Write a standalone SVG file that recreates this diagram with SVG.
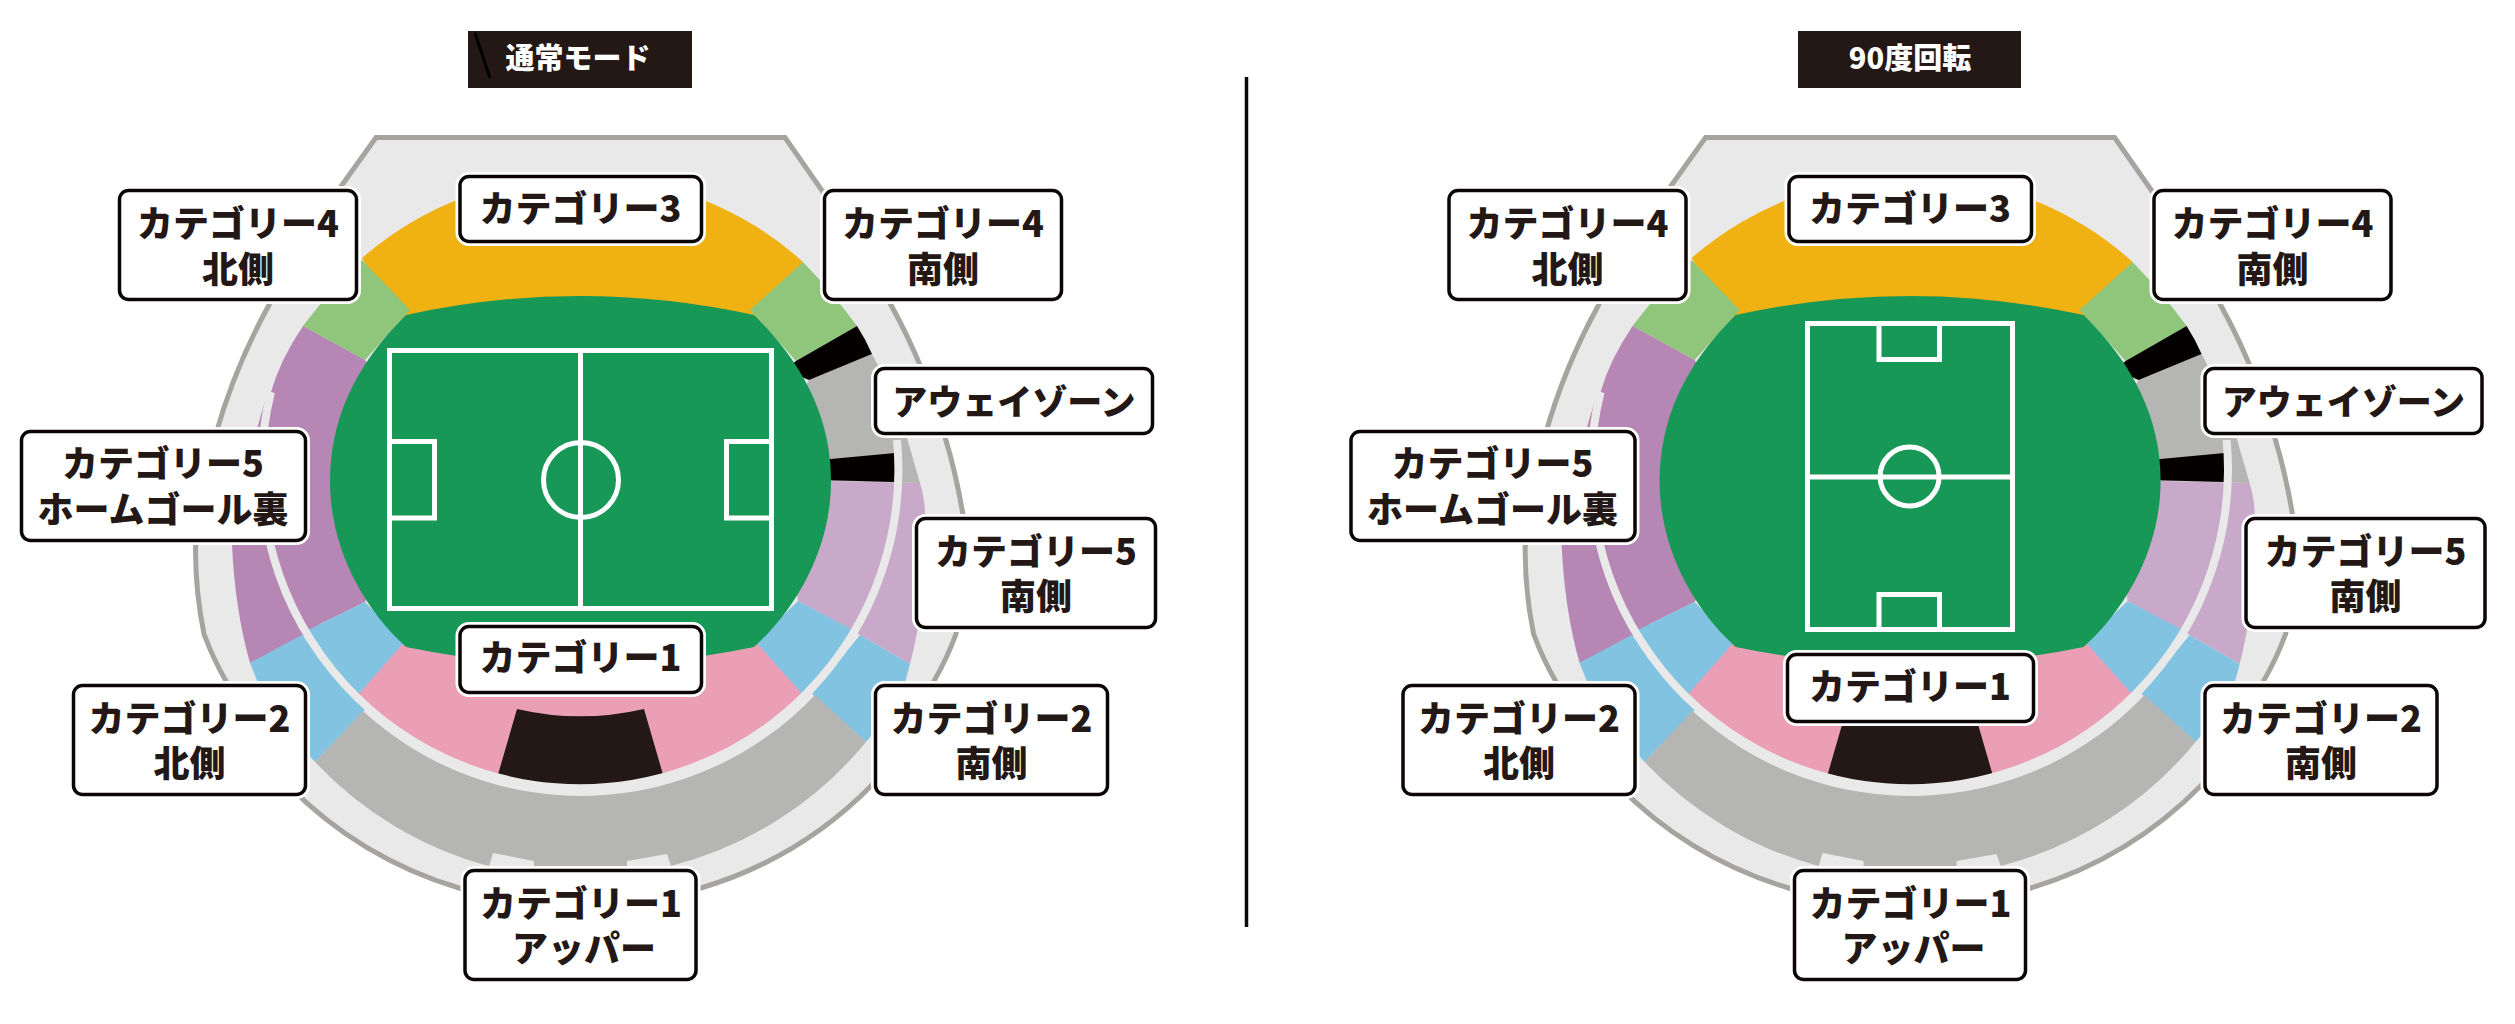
<svg xmlns="http://www.w3.org/2000/svg" width="2515" height="1024" viewBox="0 0 2515 1024">
<style>
text{font-family:"Noto Sans CJK JP","Liberation Sans",sans-serif;font-weight:900;text-anchor:middle}
.lb{font-size:36px;fill:#231815}
.aw{font-size:35px;fill:#231815}
.tt{font-size:29px;fill:#fff}
.halo{fill:#fff;stroke:#fff;stroke-width:9}
.box{fill:#fff;stroke:#0c0505;stroke-width:3.5}
.pl{fill:none;stroke:#fff;stroke-width:5}
</style>
<defs>
<g id="bowl">
<path fill="#E9E9E9" stroke="#A5A49F" stroke-width="5" stroke-linejoin="miter" d="M376 137.5H785L823 192A620 620 0 0 1 891 305A620 620 0 0 1 945 437A620 620 0 0 1 963 515Q968 575 956 634A300 300 0 0 1 934 681A400 400 0 0 1 872 785A400 400 0 0 1 701 888A400 400 0 0 1 459 888A400 400 0 0 1 288 785A400 400 0 0 1 226 681A300 300 0 0 1 204 634Q192 575 197 515A620 620 0 0 1 215 437A620 620 0 0 1 269 305A620 620 0 0 1 337 192Z"/>
<path fill="#B686B5" d="M268 392Q243 470 232 545Q235 610 250 663L320 628L300 500Z"/>
<path fill="#C9A9CA" d="M832 481L920 483Q925 500 925 515Q927 600 910 664L860 635L798 601L780 481Z"/>
<path fill="#B5B5B3" d="M809 380L872 354Q895 395 907 438L920 483L832 481L780 430Z"/>
<path fill="#83C3E2" d="M250 663L302 635L365 710L315 762Q280 725 258 683Z"/>
<path fill="#83C3E2" d="M910 664L860 635L812 694L866 742Q890 715 905 683Z"/>
<path fill="#B5B5B3" d="M315 762L363 711A322 322 0 0 0 815 695L866 742A370 370 0 0 1 671 866L667 854L627 861V866H534V861L493 853L489 866A370 370 0 0 1 315 762Z"/>
<path fill="#F0B112" d="M362 258A332 332 0 0 1 803 262L754 330H406Z"/>
<path fill="#90C67C" d="M362 260L410 310L365 360L303 326Q330 290 362 260Z"/>
<path fill="#90C67C" d="M803 262Q832 292 857 326L796 361L750 310Z"/>
<path fill="#B686B5" d="M365 360L303 326Q280 360 271 392A318.5 318.5 0 0 0 306 631L365 602L440 481Z"/>
<path fill="#040000" d="M796 361L857 326Q866 340 872 354L809 380L785 370Z"/>
<path fill="#040000" d="M820 460L895 453V482L820 480Z"/>
<path fill="#83C3E2" d="M365 602L306 631L357 696L410 647Z"/>
<path fill="#83C3E2" d="M798 601L855 631L804 696L750 647Z"/>
<path fill="#EB9FB6" d="M357 696L406 640H754L804 696A318.5 318.5 0 0 1 357 696Z"/>
<path fill="#231815" d="M517 709Q580 723.700 644 709L664 778A318.500 318.500 0 0 1 497 778Z"/>
<path fill="none" stroke="#E9E9E9" stroke-width="8" d="M271 392A318.5 318.5 0 1 0 897 440"/>
<path fill="#189857" d="M406 315Q580 277 754 315C805 365 831 420 831 481C831 545 800 605 754 647Q580 683 406 647C360 605 330 545 330 481C330 420 355 365 406 315Z"/>
</g>
</defs>

<g id="divider"><path d="M1246.500 77V927" stroke="#0c0505" stroke-width="3.500" fill="none"/></g>

<g id="normal-title">
<rect x="468" y="31" width="224" height="57" fill="#231815"/>
<path d="M475 33L490 78" stroke="#000" stroke-width="3" fill="none"/>
<text class="tt" x="578" y="69">通常モード</text>
</g>
<g id="rotated-title">
<rect x="1798" y="31" width="223" height="57" fill="#231815"/>
<text class="tt" x="1910" y="69">90度回転</text>
</g>

<g id="stadium-normal">
<use href="#bowl"/>
<g id="pitch-normal">
<rect class="pl" x="389.500" y="350.500" width="382" height="258"/>
<path class="pl" d="M580.500 350V608"/>
<circle class="pl" cx="581" cy="480" r="37.500"/>
<rect class="pl" x="389.500" y="441.500" width="45" height="76.500"/>
<rect class="pl" x="726.500" y="441.500" width="45" height="76.500"/>
</g>
</g>
<g id="stadium-rotated">
<use href="#bowl" x="1329.600"/>
<g id="pitch-rotated">
<rect class="pl" x="1807.500" y="323.500" width="205" height="306"/>
<path class="pl" d="M1807 477H2013"/>
<circle class="pl" cx="1909.600" cy="476.500" r="29.500"/>
<rect class="pl" x="1879" y="323.500" width="60.500" height="36"/>
<rect class="pl" x="1879" y="594.500" width="60.500" height="35"/>
</g>
</g>

<g id="l-cat4n"><rect class="halo" x="119.500" y="190.500" width="237" height="109" rx="9"/><rect class="box" x="119.500" y="190.500" width="237" height="109" rx="9"/><text class="lb" x="238" y="236.500">カテゴリー4</text><text class="lb" x="238" y="282.500">北側</text></g>
<g id="l-cat3"><rect class="halo" x="460" y="176.500" width="241.500" height="65" rx="9"/><rect class="box" x="460" y="176.500" width="241.500" height="65" rx="9"/><text class="lb" x="580.500" y="222">カテゴリー3</text></g>
<g id="l-cat4s"><rect class="halo" x="824.500" y="190.500" width="237" height="109" rx="9"/><rect class="box" x="824.500" y="190.500" width="237" height="109" rx="9"/><text class="lb" x="943" y="236.500">カテゴリー4</text><text class="lb" x="943" y="282.500">南側</text></g>
<g id="l-away"><rect class="halo" x="875.500" y="368.500" width="277" height="65" rx="9"/><rect class="box" x="875.500" y="368.500" width="277" height="65" rx="9"/><text class="aw" x="1014" y="414.500">アウェイゾーン</text></g>
<g id="l-cat5h"><rect class="halo" x="21.500" y="431.500" width="284" height="109" rx="9"/><rect class="box" x="21.500" y="431.500" width="284" height="109" rx="9"/><text class="lb" x="163" y="477">カテゴリー5</text><text class="lb" x="163" y="523">ホームゴール裏</text></g>
<g id="l-cat5s"><rect class="halo" x="916.500" y="518.500" width="239" height="109" rx="9"/><rect class="box" x="916.500" y="518.500" width="239" height="109" rx="9"/><text class="lb" x="1036" y="564.500">カテゴリー5</text><text class="lb" x="1036" y="610">南側</text></g>
<g id="l-cat1"><rect class="halo" x="460" y="626.500" width="241.500" height="66" rx="9"/><rect class="box" x="460" y="626.500" width="241.500" height="66" rx="9"/><text class="lb" x="580.500" y="671">カテゴリー1</text></g>
<g id="l-cat2n"><rect class="halo" x="73.500" y="685.500" width="232" height="109" rx="9"/><rect class="box" x="73.500" y="685.500" width="232" height="109" rx="9"/><text class="lb" x="189.500" y="732">カテゴリー2</text><text class="lb" x="189.500" y="777">北側</text></g>
<g id="l-cat2s"><rect class="halo" x="875.500" y="685.500" width="232" height="109" rx="9"/><rect class="box" x="875.500" y="685.500" width="232" height="109" rx="9"/><text class="lb" x="991.500" y="732">カテゴリー2</text><text class="lb" x="991.500" y="777">南側</text></g>
<g id="l-cat1u"><rect class="halo" x="465" y="870.500" width="231" height="109" rx="9"/><rect class="box" x="465" y="870.500" width="231" height="109" rx="9"/><text class="lb" x="581" y="916.500">カテゴリー1</text><text class="lb" x="584" y="961.500">アッパー</text></g>

<g id="r-cat4n"><rect class="halo" x="1449" y="190.500" width="237" height="109" rx="9"/><rect class="box" x="1449" y="190.500" width="237" height="109" rx="9"/><text class="lb" x="1567.500" y="236.500">カテゴリー4</text><text class="lb" x="1567.500" y="282.500">北側</text></g>
<g id="r-cat3"><rect class="halo" x="1789" y="176.500" width="242.500" height="65" rx="9"/><rect class="box" x="1789" y="176.500" width="242.500" height="65" rx="9"/><text class="lb" x="1910" y="222">カテゴリー3</text></g>
<g id="r-cat4s"><rect class="halo" x="2154" y="190.500" width="237" height="109" rx="9"/><rect class="box" x="2154" y="190.500" width="237" height="109" rx="9"/><text class="lb" x="2272.500" y="236.500">カテゴリー4</text><text class="lb" x="2272.500" y="282.500">南側</text></g>
<g id="r-away"><rect class="halo" x="2205" y="368.500" width="277" height="65" rx="9"/><rect class="box" x="2205" y="368.500" width="277" height="65" rx="9"/><text class="aw" x="2343.500" y="414.500">アウェイゾーン</text></g>
<g id="r-cat5h"><rect class="halo" x="1351" y="431.500" width="284" height="109" rx="9"/><rect class="box" x="1351" y="431.500" width="284" height="109" rx="9"/><text class="lb" x="1492.500" y="477">カテゴリー5</text><text class="lb" x="1492.500" y="523">ホームゴール裏</text></g>
<g id="r-cat5s"><rect class="halo" x="2246" y="518.500" width="239" height="109" rx="9"/><rect class="box" x="2246" y="518.500" width="239" height="109" rx="9"/><text class="lb" x="2365.500" y="564.500">カテゴリー5</text><text class="lb" x="2365.500" y="610">南側</text></g>
<g id="r-cat1"><rect class="halo" x="1787.500" y="654.500" width="246" height="67" rx="9"/><rect class="box" x="1787.500" y="654.500" width="246" height="67" rx="9"/><text class="lb" x="1910" y="700">カテゴリー1</text></g>
<g id="r-cat2n"><rect class="halo" x="1403" y="685.500" width="232" height="109" rx="9"/><rect class="box" x="1403" y="685.500" width="232" height="109" rx="9"/><text class="lb" x="1519" y="732">カテゴリー2</text><text class="lb" x="1519" y="777">北側</text></g>
<g id="r-cat2s"><rect class="halo" x="2205" y="685.500" width="232" height="109" rx="9"/><rect class="box" x="2205" y="685.500" width="232" height="109" rx="9"/><text class="lb" x="2321" y="732">カテゴリー2</text><text class="lb" x="2321" y="777">南側</text></g>
<g id="r-cat1u"><rect class="halo" x="1794.500" y="870.500" width="231" height="109" rx="9"/><rect class="box" x="1794.500" y="870.500" width="231" height="109" rx="9"/><text class="lb" x="1910.500" y="916.500">カテゴリー1</text><text class="lb" x="1913.500" y="961.500">アッパー</text></g>
</svg>
